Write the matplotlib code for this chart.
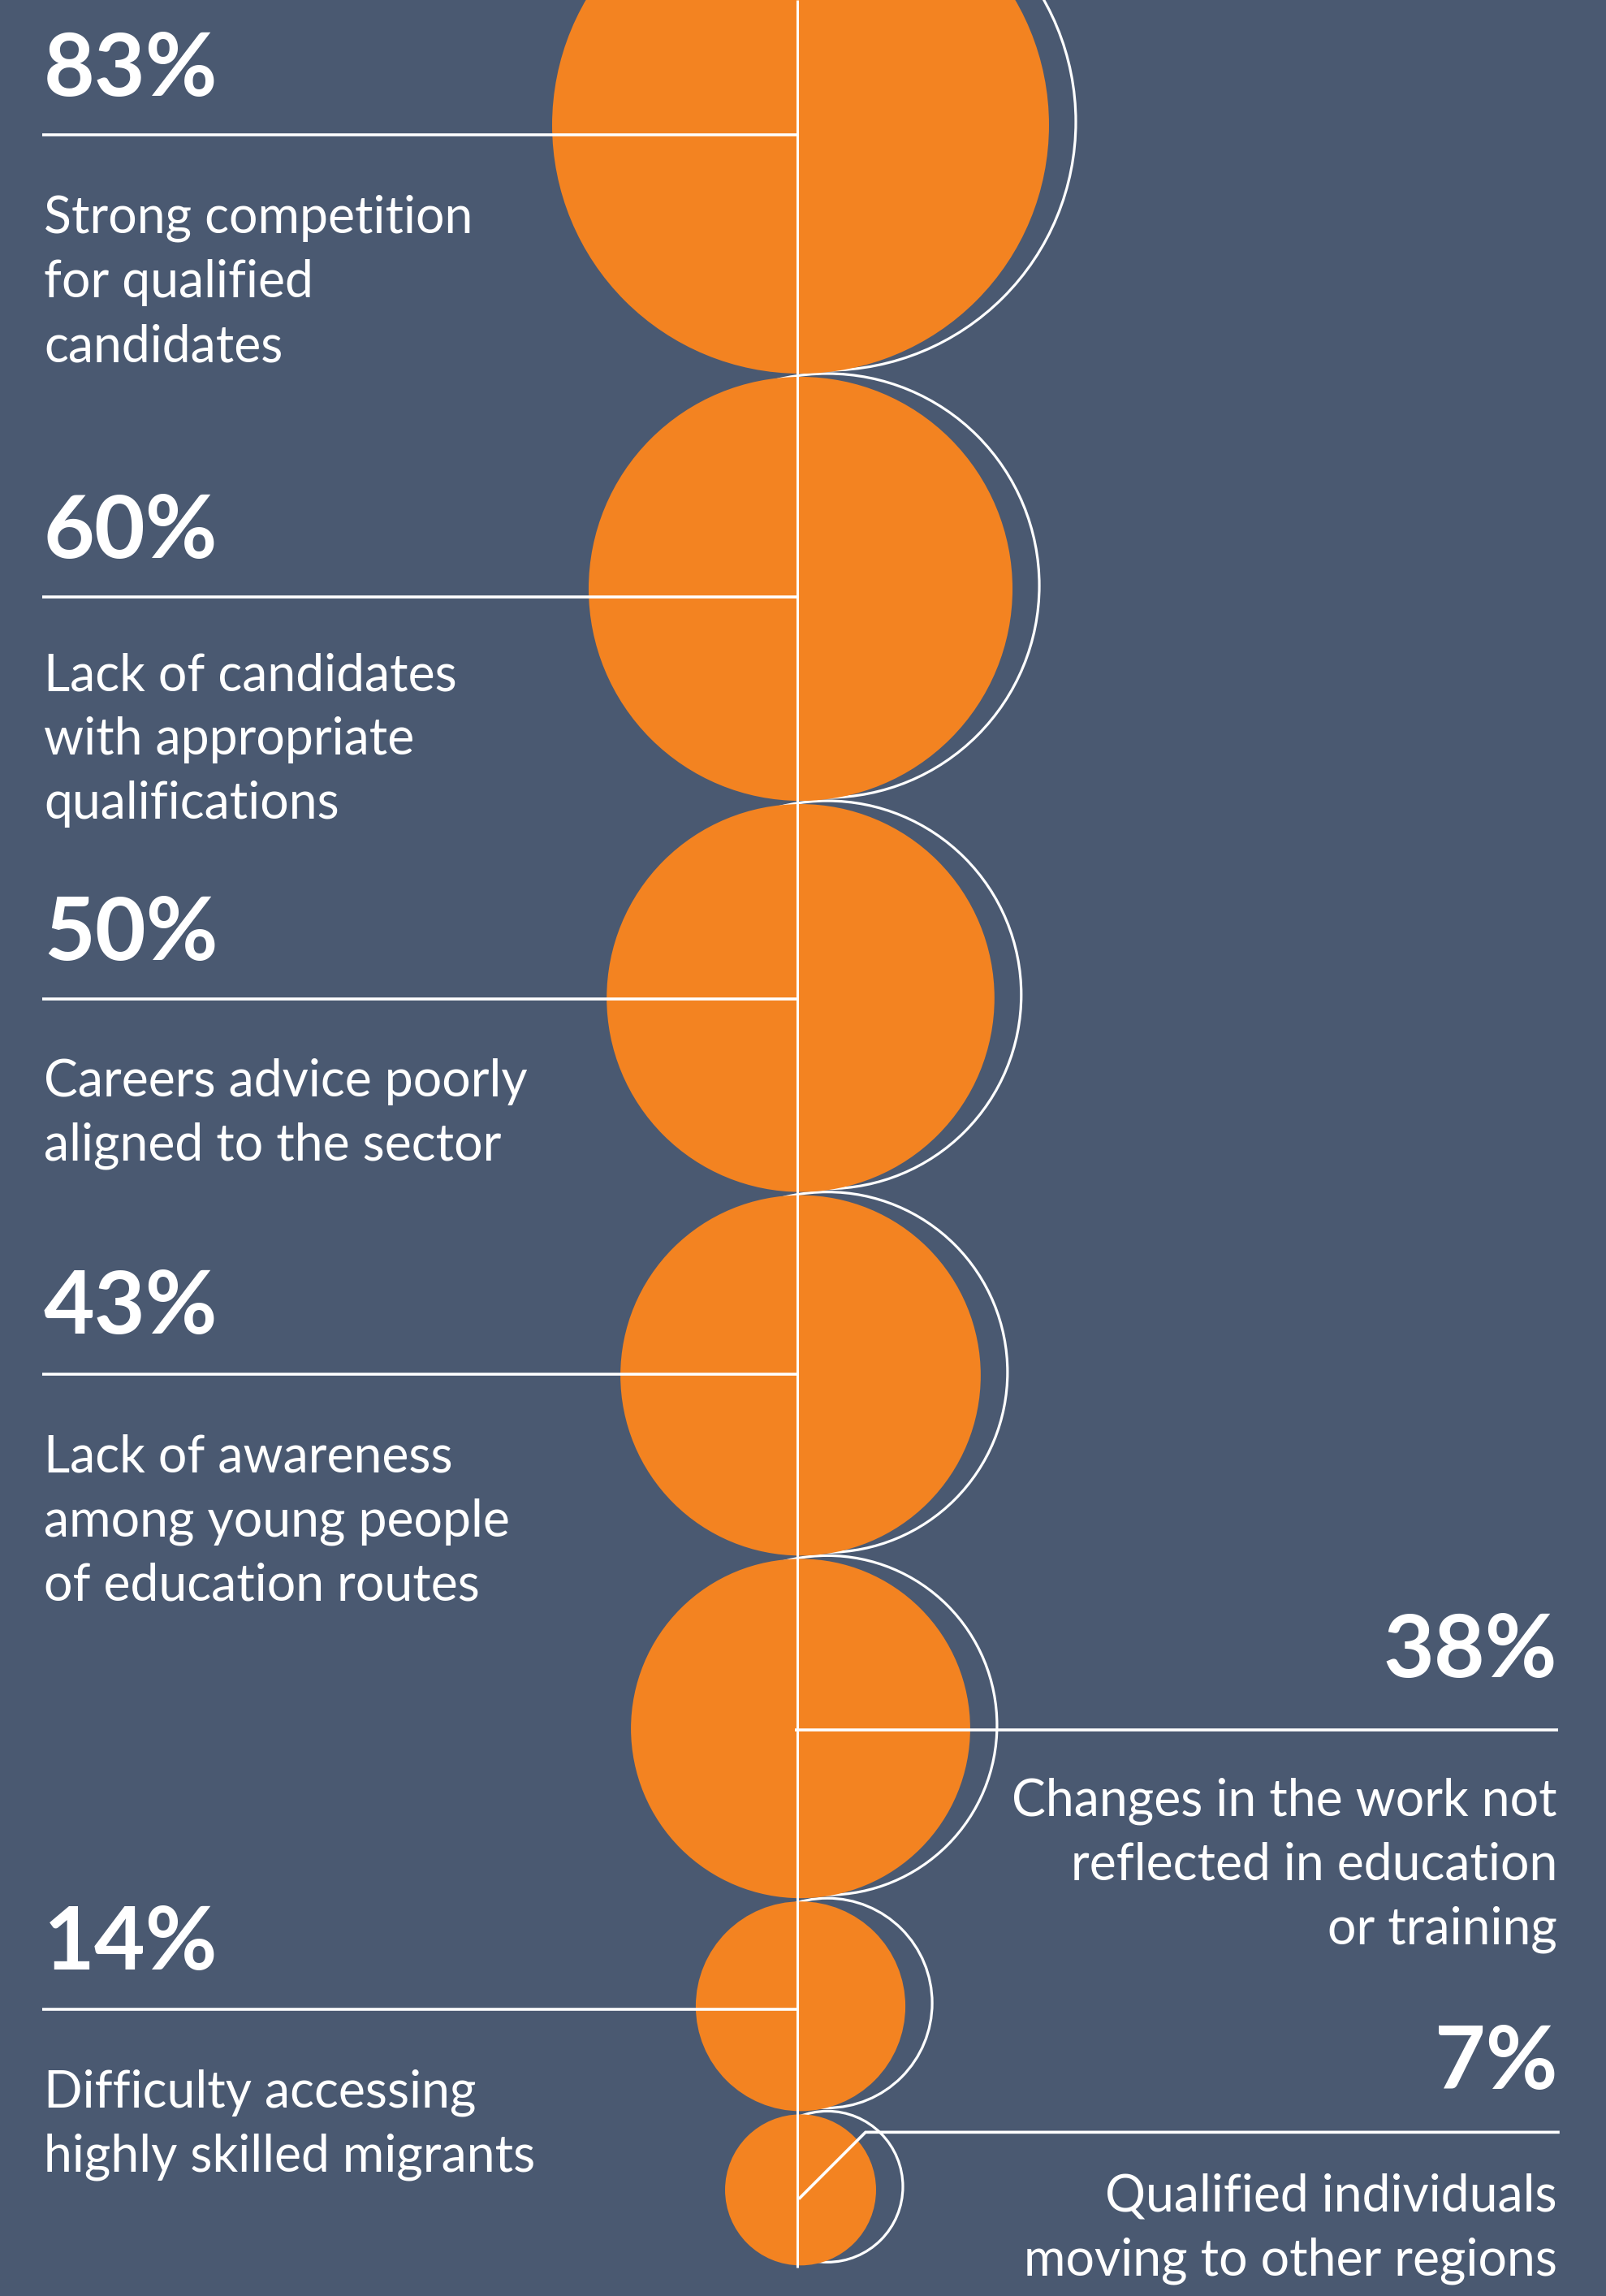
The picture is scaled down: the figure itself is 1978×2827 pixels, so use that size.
import numpy as np
import matplotlib
matplotlib.use("Agg")
import matplotlib.pyplot as plt
from matplotlib.patches import Circle

# data
values = [83, 60, 50, 43, 38, 14, 7]
pct_labels = ["83%", "60%", "50%", "43%", "38%", "14%", "7%"]
descriptions = [
    ["Strong competition", "for qualified", "candidates"],
    ["Lack of candidates", "with appropriate", "qualifications"],
    ["Careers advice poorly", "aligned to the sector"],
    ["Lack of awareness", "among young people", "of education routes"],
    ["Changes in the work not", "reflected in education", "or training"],
    ["Difficulty accessing", "highly skilled migrants"],
    ["Qualified individuals", "moving to other regions"],
]
sides = ["left", "left", "left", "left", "right", "left", "right"]

# layout (pixels)
W, H = 1978, 2827
BG = "#4A5971"
ORANGE = "#F38321"
CX = 986          # circle centre x
LINE_X = 982      # vertical spine
TOP_CY = 154      # centre of first circle
GAP = 4
LEFT_X, RIGHT_X = 54, 1918
leader_dy = [12, 10, 1, -1, 2, 4, -71]
pct_dy = [-48, -48, -48, -50, -65, -49, -53]
body_dy = [121, 115, 120, 120, 105, 120, 97]
elbow = [0, 0, 0, 0, 0, 0, 84]
LINE_GAP = 79
OUT_DX, OUT_DY = 33, -4

fig = plt.figure(figsize=(W / 100, H / 100), dpi=100)
fig.patch.set_facecolor(BG)
ax = fig.add_axes([0, 0, 1, 1])
ax.set_xlim(0, W)
ax.set_ylim(H, 0)
ax.axis("off")
ax.set_facecolor(BG)

radii = [32.95 * np.sqrt(v) + 5.8 for v in values]
centers = []
y = TOP_CY
for i, r in enumerate(radii):
    if i > 0:
        y = centers[-1] + radii[i - 1] + GAP + r
    centers.append(y)

for cy, r in zip(centers, radii):
    ax.add_patch(Circle((CX + OUT_DX, cy + OUT_DY), r, facecolor="none",
                        edgecolor="white", lw=2.3, zorder=1))
    ax.add_patch(Circle((CX, cy), r, facecolor=ORANGE, edgecolor="none", zorder=2))

# vertical spine
ax.plot([LINE_X, LINE_X], [0, centers[-1] + radii[-1] + 3], color="white", lw=2.2,
        zorder=3, solid_capstyle="butt")

num_font = dict(family=["Lato", "DejaVu Sans"], fontsize=78, fontweight="bold", color="white")
body_font = dict(family=["Lato", "DejaVu Sans"], fontsize=45, fontweight="normal", color="white")

for i, (cy, side) in enumerate(zip(centers, sides)):
    ly = cy + leader_dy[i]
    if side == "left":
        ax.plot([52, LINE_X], [ly, ly], color="white", lw=2.6, zorder=3, solid_capstyle="butt")
        tx, ha = LEFT_X, "left"
    else:
        if elbow[i]:
            x0 = LINE_X + elbow[i]
            ax.plot([LINE_X + 3, x0, RIGHT_X + 1], [ly + elbow[i] - 3, ly, ly],
                    color="white", lw=2.6, zorder=3, solid_joinstyle="miter")
        else:
            ax.plot([LINE_X - 3, RIGHT_X + 1], [ly, ly], color="white", lw=2.6,
                    zorder=3, solid_capstyle="butt")
        tx, ha = RIGHT_X, "right"
    ax.text(tx, ly + pct_dy[i], pct_labels[i], ha=ha, va="baseline", zorder=4, **num_font)
    for j, line in enumerate(descriptions[i]):
        ax.text(tx, ly + body_dy[i] + j * LINE_GAP, line, ha=ha, va="baseline",
                zorder=4, **body_font)

fig.savefig("out.png", dpi=100, facecolor=BG)
